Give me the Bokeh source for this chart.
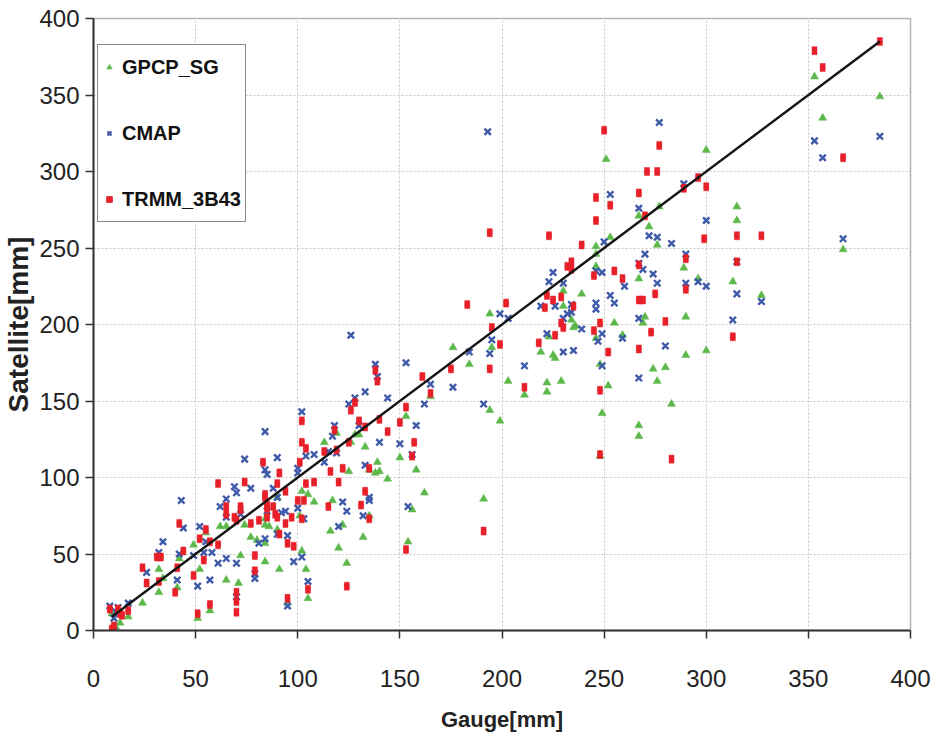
from bokeh.plotting import figure
from bokeh.models import Range1d, Legend, LegendItem, ColumnDataSource, SingleIntervalTicker
from bokeh.embed import file_html
from bokeh.resources import INLINE

# ---------------- data (mm) ----------------
gpcp_x = [9, 10, 11, 13, 17, 24, 32, 34, 32, 41, 42, 49, 52, 55, 51, 57,
          62, 65, 65, 71, 72, 74, 77, 80, 84, 84, 84, 84, 86, 90, 90, 91, 95, 101, 102, 105, 102, 104, 105, 108,
          113, 116, 117, 119, 120, 122, 124, 125, 126, 128, 130, 132, 133, 135, 135, 138, 139, 140, 144, 150,
          153, 154, 156, 158, 162, 165,
          176, 184, 191, 194, 194, 195, 199, 203, 211, 219, 222, 222, 223, 225, 226, 229, 230, 230, 234, 235, 236, 239,
          246, 246, 246, 246, 248, 248, 249, 251, 252, 253, 255, 259, 267, 267, 267, 267, 269, 270, 272, 274, 276, 276,
          277, 280, 283, 289, 290, 290,
          296, 300, 300, 313, 315, 315, 327, 353, 357, 367, 385]
gpcp_y = [11, 0, 2, 5, 9, 18, 25, 34, 40, 28, 47, 56, 40, 64, 8, 13,
          68, 68, 33, 31, 49, 69, 61, 59, 73, 69, 57, 45, 68, 66, 87, 40, 18, 75, 91, 89, 52, 40, 21, 84,
          123, 65, 85, 129, 54, 69, 44, 104, 123, 128, 128, 61, 120, 105, 75, 103, 110, 104, 99, 113,
          140, 58, 79, 105, 90, 153,
          185, 174, 86, 144, 207, 185, 137, 163, 154, 182, 162, 156, 192, 180, 178, 163, 212, 222, 203, 198, 199, 220,
          251, 246, 238, 191, 174, 114, 142, 308, 160, 257, 201, 193, 271, 230, 134, 127, 201, 205, 264, 171, 252, 163,
          277, 172, 148, 237, 205, 180,
          230, 314, 183, 228, 277, 268, 219, 362, 335, 249, 349]

cmap_x = [8, 10, 10, 11, 12, 17, 26, 32, 34, 41, 42, 43, 44, 49, 51, 52, 54, 55, 57, 58,
          61, 62, 65, 65, 65, 69, 70, 70, 70, 72, 74, 77, 79, 79, 81, 84, 84, 84, 85, 85, 88, 90, 90, 90, 92, 94,
          95, 95, 98, 100, 100, 100, 102, 102, 103, 104, 105, 108, 113, 115, 117, 118, 119, 120, 122, 124, 125,
          126, 128, 130, 132, 133, 133, 135, 135, 138, 139, 140, 144, 150, 153, 154, 156, 158, 162, 165, 176,
          184, 191, 193, 194, 195, 199, 203, 211, 219, 222, 223, 225, 226, 230, 230, 230, 232, 234, 234, 235, 239,
          246, 246, 246, 247, 249, 249, 249, 250, 253, 253, 255, 259, 260, 267, 267, 267, 267, 269, 270, 272, 274,
          276, 276, 277, 280, 283, 289, 290, 290, 296,
          300, 300, 313, 315, 315, 327, 353, 357, 367, 385]
cmap_y = [16, 0, 8, 12, 15, 18, 38, 51, 58, 33, 50, 85, 67, 49, 29, 68, 51, 58, 33, 51,
          44, 81, 47, 74, 86, 94, 90, 44, 22, 76, 112, 93, 34, 37, 57, 60, 130, 105, 102, 78, 93, 113, 87, 63, 77, 78,
          62, 16, 45, 106, 103, 80, 143, 48, 73, 114, 32, 115, 110, 117, 127, 134, 116, 68, 84, 78, 148,
          193, 152, 134, 75, 156, 108, 87, 85, 174, 166, 123, 152, 122, 175, 81, 115, 134, 148, 161, 159,
          182, 148, 326, 181, 190, 207, 204, 173, 212, 194, 228, 234, 212, 227, 204, 182, 207, 213, 208, 183, 197,
          214, 210, 235, 189, 234, 194, 173, 254, 285, 219, 214, 191, 225, 276, 240, 204, 165, 236, 246, 258, 233,
          257, 227, 332, 186, 253, 292, 246, 227, 228,
          268, 225, 203, 241, 220, 215, 320, 309, 256, 323]

trmm_x = [8, 9, 10, 12, 13, 14, 17, 24, 26, 31, 32, 33, 40, 41, 42, 44, 49, 51, 52, 54, 55, 57, 57, 61, 61,
          65, 65, 69, 70, 70, 70, 70, 72, 72, 74, 77, 79, 79, 81, 83, 84, 84, 85, 85, 85, 88, 89, 90, 90, 91, 91,
          94, 94, 95, 95, 97, 98, 100, 101, 102, 102, 102, 103, 104, 104, 105, 108, 113, 115, 116, 118, 119, 120,
          122, 124, 125, 126, 128, 130, 131, 133, 133, 135, 135, 138, 139, 140, 144, 150, 153, 153, 156, 157, 161, 165,
          175, 183, 191, 194, 194, 195, 199, 202, 211, 218, 221, 222, 223, 225, 226, 229, 229, 230, 232, 234, 234, 235, 239,
          245, 245, 246, 246, 248, 248, 248, 250, 252, 253, 255, 259, 267, 267, 267, 267, 269, 270, 271, 273, 275, 276,
          277, 280, 283, 289, 290, 290,
          296, 300, 299, 313, 315, 315, 327, 353, 357, 367, 385]
trmm_y = [14, 1, 3, 14, 11, 10, 13, 41, 31, 48, 32, 48, 25, 41, 70, 52, 36, 11, 60, 46, 66, 58, 17, 56, 96,
          81, 76, 74, 72, 25, 19, 12, 81, 79, 97, 70, 49, 39, 72, 110, 89, 87, 82, 80, 74, 81, 76, 74, 96, 103, 63,
          91, 70, 57, 21, 74, 55, 85, 110, 137, 123, 73, 85, 119, 96, 27, 97, 117, 81, 104, 131, 118, 97,
          106, 29, 123, 144, 149, 137, 82, 133, 91, 106, 73, 170, 163, 138, 130, 136, 146, 53, 114, 123, 166, 155,
          171, 213, 65, 260, 171, 198, 187, 214, 159, 188, 211, 219, 258, 216, 193, 218, 201, 198, 238, 241, 236, 212, 252,
          232, 196, 283, 268, 201, 157, 115, 327, 182, 278, 235, 230, 286, 239, 216, 184, 216, 271, 300, 195, 220, 300,
          317, 202, 112, 289, 243, 223,
          296, 290, 256, 192, 258, 241, 258, 379, 368, 309, 385]

x_ticks_step = 50
axis_max = 400

# 1:1 reference line over the range of the gauge data
all_x = gpcp_x + cmap_x + trmm_x
line_x = [min(all_x) + 1, max(all_x)]
line_y = list(line_x)

FONT = "Liberation Sans"
GREEN = "#5cb84a"
BLUE = "#3f5aa8"
RED = "#e8202a"

p = figure(width=931, height=744, output_backend="svg", toolbar_location=None,
           x_range=Range1d(0, axis_max), y_range=Range1d(0, axis_max),
           min_border_left=89, min_border_right=21, min_border_top=18, min_border_bottom=114)
p.background_fill_color = "white"
p.border_fill_color = "white"
p.outline_line_color = "#b5b5b5"
p.outline_line_width = 1.5

for ax in (p.xaxis[0], p.yaxis[0]):
    ax.ticker = SingleIntervalTicker(interval=x_ticks_step)
    ax.axis_line_color = "#333333"
    ax.axis_line_width = 2
    ax.major_tick_line_color = "#333333"
    ax.major_tick_line_width = 1.5
    ax.major_tick_in = 0
    ax.major_tick_out = 8
    ax.minor_tick_line_color = None
    ax.major_label_text_font = FONT
    ax.major_label_text_font_size = "24px"
    ax.major_label_text_color = "#222222"
    ax.axis_label_text_font = FONT
    ax.axis_label_text_font_style = "bold"
    ax.axis_label_text_color = "#222222"

p.xaxis.axis_label = "Gauge[mm]"
p.xaxis.axis_label_text_font_size = "22px"
p.xaxis.major_label_standoff = 31
p.xaxis.axis_label_standoff = 17
p.yaxis.axis_label = "Satellite[mm]"
p.yaxis.axis_label_text_font_size = "28px"
p.yaxis.major_label_standoff = 6
p.yaxis.axis_label_standoff = 2

for g in (p.xgrid[0], p.ygrid[0]):
    g.ticker = SingleIntervalTicker(interval=x_ticks_step)
    g.grid_line_color = "#c8c8c8"
    g.grid_line_dash = "2 2"
    g.grid_line_width = 1

src_g = ColumnDataSource(dict(x=gpcp_x, y=gpcp_y))
src_c = ColumnDataSource(dict(x=cmap_x, y=cmap_y))
src_t = ColumnDataSource(dict(x=trmm_x, y=trmm_y))

r_g = p.scatter("x", "y", source=src_g, marker="triangle", size=8,
                fill_color=GREEN, line_color=GREEN, line_width=0.5)
r_c = p.scatter("x", "y", source=src_c, marker="x", size=9,
                line_color=BLUE, line_width=2.4)
# square marks under the red bars, used for the legend entry
r_t_leg = p.scatter("x", "y", source=src_t, marker="square", size=4,
                    fill_color=RED, line_color=RED)
p.rect("x", "y", source=src_t, width=5, height=8, width_units="screen", height_units="screen",
       fill_color=RED, line_color=RED, line_width=0.5)

p.line(line_x, line_y, line_color="#151515", line_width=2.5)

legend = Legend(items=[LegendItem(label="GPCP_SG", renderers=[r_g]),
                       LegendItem(label="CMAP", renderers=[r_c]),
                       LegendItem(label="TRMM_3B43", renderers=[r_t_leg])],
                location=(4, 408))
legend.label_text_font = FONT
legend.label_text_font_style = "bold"
legend.label_text_font_size = "20px"
legend.label_text_color = "#111111"
legend.label_height = 36
legend.glyph_height = 14
legend.glyph_width = 14
legend.label_standoff = 6
legend.spacing = 30
legend.padding = 4
legend.border_line_color = "#111111"
legend.border_line_width = 1.5
legend.background_fill_color = "white"
legend.background_fill_alpha = 1
p.add_layout(legend, "center")

open("out.html", "w").write(file_html(p, INLINE))
